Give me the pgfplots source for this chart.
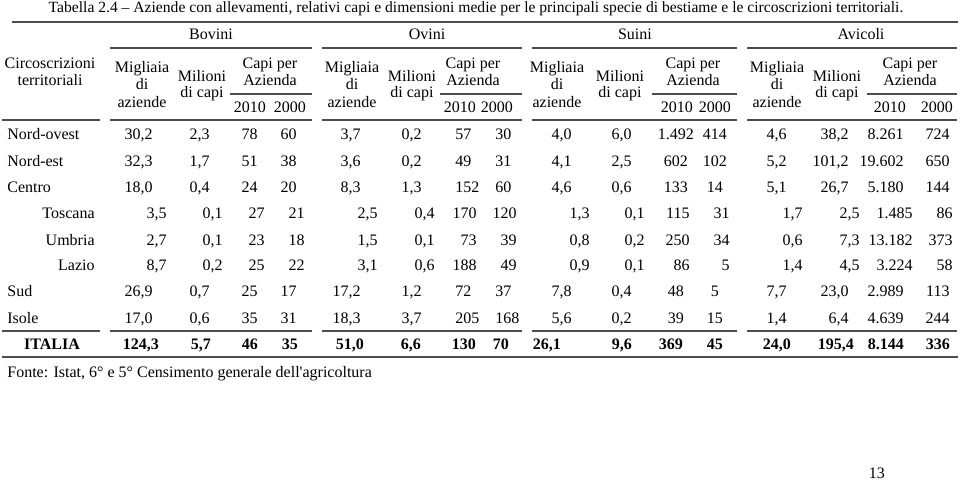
\documentclass[border=0pt]{standalone}
\usepackage{fontspec}
\setmainfont{Liberation Serif}
\usepackage{pgfplots}
\usepackage{pgfplotstable}
\pgfplotsset{compat=1.18}

% y = row position in pixels from the top of the 960x480 page
\pgfplotstableread{
y name bMig bMil b10 b00 oMig oMil o10 o00 sMig sMil s10 s00 aMig aMil a10 a00
134 Nord-ovest 30,2 2,3 78 60 3,7 0,2 57 30 4,0 6,0 1.492 414 4,6 38,2 8.261 724
161 Nord-est 32,3 1,7 51 38 3,6 0,2 49 31 4,1 2,5 602 102 5,2 101,2 19.602 650
187 Centro 18,0 0,4 24 20 8,3 1,3 152 60 4,6 0,6 133 14 5,1 26,7 5.180 144
291 Sud 26,9 0,7 25 17 17,2 1,2 72 37 7,8 0,4 48 5 7,7 23,0 2.989 113
318 Isole 17,0 0,6 35 31 18,3 3,7 205 168 5,6 0,2 39 15 1,4 6,4 4.639 244
}\mainrows

\pgfplotstableread{
y name bMig bMil b10 b00 oMig oMil o10 o00 sMig sMil s10 s00 aMig aMil a10 a00
213 Toscana 3,5 0,1 27 21 2,5 0,4 170 120 1,3 0,1 115 31 1,7 2,5 1.485 86
240 Umbria 2,7 0,1 23 18 1,5 0,1 73 39 0,8 0,2 250 34 0,6 7,3 13.182 373
265 Lazio 8,7 0,2 25 22 3,1 0,6 188 49 0,9 0,1 86 5 1,4 4,5 3.224 58
}\subrows

\pgfplotstableread{
y name bMig bMil b10 b00 oMig oMil o10 o00 sMig sMil s10 s00 aMig aMil a10 a00
344 ITALIA 124,3 5,7 46 35 51,0 6,6 130 70 26,1 9,6 369 45 24,0 195,4 8.144 336
}\totrow

\tikzset{
  cell/.style={font=\fontsize{8.03}{9}\selectfont, inner sep=0pt,
    text height=5.3pt, text depth=0pt},
  cellb/.style={cell, font=\fontsize{8.03}{9}\selectfont\bfseries},
  rule/.style={draw=black!70, line width=0.8bp, mark=none},
}

% #1 table, #2 list column/x/anchor, #3 node style
\newcommand\putcols[3]{%
  \foreach \c/\x/\a in {#2}{%
    \edef\tmp{\noexpand\addplot[draw=none, mark=none, nodes near coords,
      point meta=explicit symbolic,
      every node near coord/.append style={#3, anchor=\a}]
      table[x expr=\x, y=y, meta=\c]{\noexpand#1};}%
    \tmp}}

\newcommand\hd[3]{\node[cell] at (axis cs:#1,#2) {#3};}
% one species block: Migliaia, Milioni, Capi per, 2010, 2000 centres
\newcommand\grp[5]{%
  \hd{#1}{67}{Migliaia}\hd{#1}{84}{di}\hd{#1}{102}{aziende}%
  \hd{#2}{76}{Milioni}\hd{#2}{92}{di capi}%
  \hd{#3}{63}{Capi per}\hd{#3}{80}{Azienda}%
  \hd{#4}{107}{2010}\hd{#5}{107}{2000}}

\begin{document}
\begin{tikzpicture}
\begin{axis}[
  width=480bp, height=240bp, scale only axis,
  xmin=0, xmax=960, ymin=0, ymax=480, y dir=reverse,
  hide axis, clip=false]

% rules
\addplot[rule] coordinates {(12,22) (958,22)};
\addplot[rule, unbounded coords=jump] coordinates {(110,48) (312,48) (nan,nan) (322,48) (522,48) (nan,nan) (532,48) (737,48) (nan,nan) (747,48) (957,48)};
\addplot[rule, unbounded coords=jump] coordinates {(230,94) (312,94) (nan,nan) (440,94) (522,94) (nan,nan) (652,94) (737,94) (nan,nan) (867,94) (957,94)};
\addplot[rule, unbounded coords=jump] coordinates {(2,120) (100,120) (nan,nan) (110,120) (312,120) (nan,nan) (322,120) (522,120) (nan,nan) (532,120) (737,120) (nan,nan) (747,120) (957,120)};
\addplot[rule, unbounded coords=jump] coordinates {(2,331) (100,331) (nan,nan) (110,331) (312,331) (nan,nan) (322,331) (522,331) (nan,nan) (532,331) (737,331) (nan,nan) (747,331) (957,331)};
\addplot[rule] coordinates {(2,357) (958,357)};

% headers
\node[cell, font=\fontsize{7.83}{9}\selectfont] at (axis cs:476,7) {Tabella 2.4 -- Aziende con allevamenti, relativi capi e dimensioni medie per le principali specie di bestiame e le circoscrizioni territoriali.};
\hd{211}{34}{Bovini}
\hd{427}{34}{Ovini}
\hd{635}{34}{Suini}
\hd{861}{34}{Avicoli}
\hd{50}{63}{Circoscrizioni}
\hd{50}{80}{territoriali}
\grp{142}{202}{270}{250}{290}
\grp{352}{412}{473}{460}{497}
\grp{557}{620}{693}{677}{715}
\grp{777}{837}{910}{890}{937}

% body
\putcols{\mainrows}{name/7/west, bMig/153/east, bMil/210/east, b10/258/east, b00/297/east,
  oMig/361/east, oMil/422/east, o10/455/west, o00/495/west,
  sMig/572/east, sMil/632/east, s10/676/center, s00/715/center,
  aMig/787/east, aMil/849/east, a10/904/east, a00/950/east}{cell}
\putcols{\subrows}{name/95/east, bMig/167/east, bMil/223/east, b10/265/east, b00/305/east,
  oMig/378/east, oMil/435/east, o10/477/east, o00/517/east,
  sMig/590/east, sMil/645/east, s10/690/east, s00/730/east,
  aMig/803/east, aMil/860/east, a10/913/east, a00/953/east}{cell}
\putcols{\totrow}{name/52/center, bMig/141/center, bMil/201/center, b10/250/center, b00/290/center,
  oMig/350/center, oMil/411/center, o10/464/center, o00/501/center,
  sMig/547/center, sMil/622/center, s10/671/center, s00/715/center,
  aMig/777/center, aMil/836/center, a10/886/center, a00/938/center}{cellb}

\node[cell, anchor=west] at (axis cs:7,372) {Fonte: Istat, 6° e 5° Censimento generale dell\textquotesingle agricoltura};
\hd{877}{473}{13}
\end{axis}
\pgfresetboundingbox
\useasboundingbox (0,0) rectangle (480bp,240bp);
\end{tikzpicture}
\end{document}
